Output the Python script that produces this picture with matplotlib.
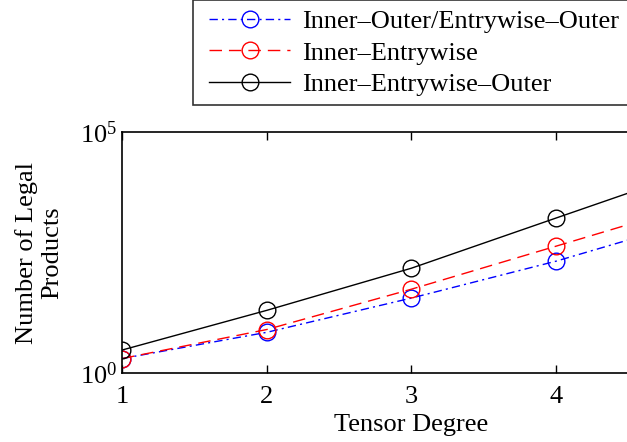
import matplotlib
matplotlib.use("Agg")
import matplotlib.pyplot as plt
from matplotlib.ticker import NullLocator
from matplotlib.lines import Line2D
from matplotlib.legend_handler import HandlerLine2D

plt.rcParams['font.family'] = ['Liberation Serif', 'DejaVu Serif']
plt.rcParams['mathtext.fontset'] = 'custom'
plt.rcParams['mathtext.rm'] = 'Liberation Serif'
plt.rcParams['mathtext.it'] = 'Liberation Serif:italic'

degree = [1, 2, 3, 4, 5]
inner_outer = [2, 7, 36, 210, 1600]
inner_entry = [2, 8, 55, 430, 3400]
inner_entry_outer = [3, 20, 150, 1650, 18000]
labels = ['Inner\u2013Outer/Entrywise\u2013Outer', 'Inner\u2013Entrywise', 'Inner\u2013Entrywise\u2013Outer']
xticks = [1, 2, 3, 4]
xticklabels = ['1', '2', '3', '4']

fig = plt.figure(figsize=(6.27, 4.42), dpi=100)
ax = fig.add_axes([0.1946, 0.156, 0.923, 0.545])

fs = 19
ax.plot(degree, inner_outer, color='blue', linestyle=(0, (6, 3, 1.5, 3)), marker='o', markersize=12,
        markerfacecolor='none', markeredgecolor='blue', linewidth=1, label=labels[0])
ax.plot(degree, inner_entry, color='red', linestyle=(0, (9, 5)), marker='o', markersize=12,
        markerfacecolor='none', markeredgecolor='red', linewidth=1, label=labels[1])
ax.plot(degree, inner_entry_outer, color='black', linestyle='-', marker='o', markersize=12,
        markerfacecolor='none', markeredgecolor='black', linewidth=1, label=labels[2])

ax.set_yscale('log')
ax.set_ylim(1, 1e5)
ax.set_xlim(1, 5)
ax.set_yticks([1, 1e5])
ax.set_yticklabels([r'$10^{0}$', r'$10^{5}$'])
ax.yaxis.set_minor_locator(NullLocator())
ax.set_xticks(xticks)
ax.set_xticklabels(xticklabels)
ax.tick_params(axis='both', direction='in', length=6, labelsize=fs, top=True, right=True, width=1)
ax.tick_params(axis='x', pad=9)
ax.tick_params(axis='y', length=0)
for s in ax.spines.values():
    s.set_linewidth(1.2)

ax.set_xlabel('Tensor Degree', fontsize=fs, labelpad=5)
ax.set_ylabel('Number of Legal\nProducts', fontsize=fs, labelpad=12, linespacing=1.2)

leg = fig.legend(loc='lower left', bbox_to_anchor=(0.308, 0.762), bbox_transform=fig.transFigure,
                 fontsize=fs, frameon=True, fancybox=False, handlelength=3.33,
                 handletextpad=0.45, labelspacing=0.31, borderpad=0.34, borderaxespad=0,
                 handler_map={Line2D: HandlerLine2D(xpad=0.27)})
leg.get_frame().set_edgecolor('black')
leg.get_frame().set_linewidth(1.2)

fig.savefig('out.png', dpi=100)
